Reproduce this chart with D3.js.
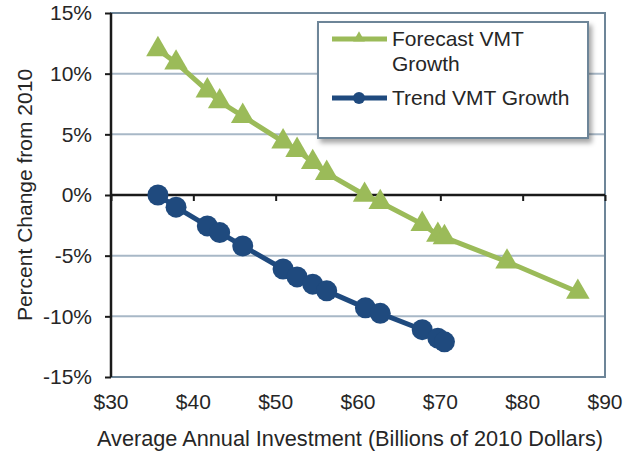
<!DOCTYPE html>
<html>
<head>
<meta charset="utf-8">
<script src="https://cdn.jsdelivr.net/npm/d3@7"></script>
<style>
  body { margin: 0; background: #fff; }
  text { font-family: "Liberation Sans", Arial, sans-serif; fill: #262626; }
</style>
</head>
<body>
<div id="chart"></div>
<script>
// investment levels (billions of 2010 dollars)
var trendInvestment = [35.7, 37.9, 41.7, 43.2, 46.0, 50.9, 52.6, 54.5, 56.2, 60.9, 62.7, 67.8, 69.7, 70.5]
var trendGrowth = [0, -1.0, -2.55, -3.1, -4.2, -6.1, -6.75, -7.35, -7.9, -9.3, -9.75, -11.1, -11.8, -12.1]

var forecastInvestment = [35.7, 37.9, 41.7, 43.2, 46.0, 50.9, 52.6, 54.5, 56.2, 60.8, 62.7, 67.8, 69.7, 70.5, 78.1, 86.7]
var forecastGrowth = [12.0, 10.9, 8.6, 7.7, 6.5, 4.4, 3.7, 2.7, 1.8, 0, -0.6, -2.4, -3.3, -3.5, -5.5, -8.0]

var xTicks = [30, 40, 50, 60, 70, 80, 90]
var xTickLabels = ["$30", "$40", "$50", "$60", "$70", "$80", "$90"]
var yTicks = [-15, -10, -5, 0, 5, 10, 15]
var yTickLabels = ["-15%", "-10%", "-5%", "0%", "5%", "10%", "15%"]

var width = 629, height = 454
var green = "#9bbb59", blue = "#1f4a7e", frame = "#6d8598", grid = "#a8b8c7"
var fontSize = "21px"

var svg = d3.select("#chart").append("svg").attr("width", width).attr("height", height)

var defs = svg.append("defs")
var shadow = defs.append("filter").attr("id", "shadow").attr("x", "-10%").attr("y", "-10%").attr("width", "130%").attr("height", "140%")
shadow.append("feDropShadow").attr("dx", 3).attr("dy", 4).attr("stdDeviation", 2.5).attr("flood-color", "#000").attr("flood-opacity", 0.35)

var x = d3.scaleLinear().domain([30, 90]).range([111, 605])
var y = d3.scaleLinear().domain([-15, 15]).range([377, 13])

// gridlines
svg.append("g").selectAll("line")
    .data(yTicks.filter(function(d) { return d != 0 && Math.abs(d) != 15 }))
    .enter().append("line")
    .attr("x1", x(30)).attr("x2", x(90))
    .attr("y1", function(d) { return y(d) }).attr("y2", function(d) { return y(d) })
    .attr("stroke", grid).attr("stroke-width", 2)

// plot frame
svg.append("rect")
    .attr("x", x(30)).attr("y", y(15))
    .attr("width", x(90) - x(30)).attr("height", y(-15) - y(15))
    .attr("fill", "none").attr("stroke", frame).attr("stroke-width", 2)

// y axis
var yAxis = d3.axisLeft(y).tickValues(yTicks).tickSize(6).tickPadding(13)
    .tickFormat(function(d, i) { return yTickLabels[i] })
var gy = svg.append("g").attr("transform", "translate(" + x(30) + ",0)").call(yAxis)
gy.select(".domain").attr("stroke", "#1a1a1a").attr("stroke-width", 2.5).attr("d", "M0," + y(15) + "V" + y(-15))
gy.selectAll(".tick line").attr("stroke", "#1a1a1a").attr("stroke-width", 2)
gy.selectAll(".tick text").style("font-size", fontSize).style("font-family", "Liberation Sans, Arial, sans-serif").attr("fill", "#262626")

// x axis on the zero line
var xAxis = d3.axisBottom(x).tickValues(xTicks).tickSize(6).tickFormat("")
var gx = svg.append("g").attr("transform", "translate(0," + y(0) + ")").call(xAxis)
gx.select(".domain").attr("stroke", "#1a1a1a").attr("stroke-width", 2.5).attr("d", "M" + x(30) + ",0H" + x(90))
gx.selectAll(".tick line").attr("stroke", "#1a1a1a").attr("stroke-width", 2)

// x tick labels below plot
svg.append("g").selectAll("text")
    .data(xTicks).enter().append("text")
    .attr("x", function(d) { return x(d) })
    .attr("y", 409)
    .attr("text-anchor", "middle")
    .style("font-size", fontSize)
    .text(function(d, i) { return xTickLabels[i] })

// axis titles
svg.append("text")
    .attr("x", 350).attr("y", 446)
    .attr("text-anchor", "middle")
    .style("font-size", "21.7px")
    .text("Average Annual Investment (Billions of 2010 Dollars)")

svg.append("text")
    .attr("transform", "translate(32," + y(0) + ") rotate(-90)")
    .attr("text-anchor", "middle")
    .style("font-size", fontSize)
    .text("Percent Change from 2010")

var line = d3.line().x(function(d) { return x(d[0]) }).y(function(d) { return y(d[1]) })
var trend = d3.zip(trendInvestment, trendGrowth)
var forecast = d3.zip(forecastInvestment, forecastGrowth)

var tri = d3.symbol().type(d3.symbolTriangle).size(240)

// forecast series
svg.append("path").datum(forecast).attr("d", line)
    .attr("fill", "none").attr("stroke", green).attr("stroke-width", 5)
svg.append("g").selectAll("path").data(forecast).enter().append("path")
    .attr("d", tri)
    .attr("transform", function(d) { return "translate(" + x(d[0]) + "," + y(d[1]) + ")" })
    .attr("fill", green)

// trend series
svg.append("path").datum(trend).attr("d", line)
    .attr("fill", "none").attr("stroke", blue).attr("stroke-width", 5)
svg.append("g").selectAll("circle").data(trend).enter().append("circle")
    .attr("cx", function(d) { return x(d[0]) }).attr("cy", function(d) { return y(d[1]) })
    .attr("r", 10.5).attr("fill", blue)

// legend
var legend = svg.append("g").attr("transform", "translate(318,22)")
legend.append("rect").attr("width", 270).attr("height", 116)
    .attr("fill", "#fff").attr("stroke", frame).attr("stroke-width", 2)
    .attr("filter", "url(#shadow)")

legend.append("line").attr("x1", 14).attr("x2", 69).attr("y1", 17).attr("y2", 17)
    .attr("stroke", green).attr("stroke-width", 5)
legend.append("path").attr("d", d3.symbol().type(d3.symbolTriangle).size(60))
    .attr("transform", "translate(41,16)").attr("fill", green)
legend.append("text").attr("x", 74).attr("y", 24).style("font-size", fontSize).text("Forecast VMT")
legend.append("text").attr("x", 74).attr("y", 49).style("font-size", fontSize).text("Growth")

legend.append("line").attr("x1", 14).attr("x2", 69).attr("y1", 76).attr("y2", 76)
    .attr("stroke", blue).attr("stroke-width", 5)
legend.append("circle").attr("cx", 41).attr("cy", 76).attr("r", 6).attr("fill", blue)
legend.append("text").attr("x", 74).attr("y", 83).style("font-size", fontSize).text("Trend VMT Growth")
</script>
</body>
</html>
